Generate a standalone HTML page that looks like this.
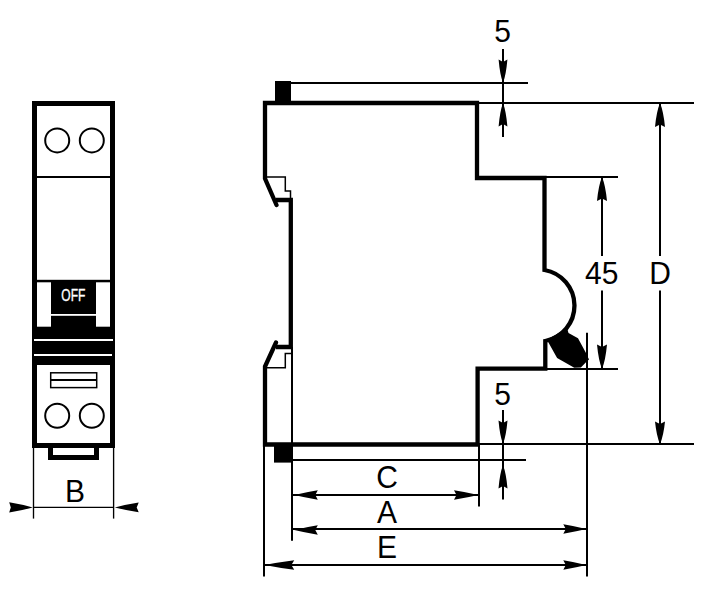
<!DOCTYPE html>
<html><head><meta charset="utf-8"><style>
html,body{margin:0;padding:0;background:#fff;}
svg{display:block;}
text{font-family:"Liberation Sans",sans-serif;}
</style></head><body>
<svg width="714" height="614" viewBox="0 0 714 614">
<rect width="714" height="614" fill="#fff"/>
<!-- FRONT VIEW -->
<g fill="none" stroke="#000">
  <rect x="34.5" y="103.5" width="78" height="342" stroke-width="5"/>
  <line x1="37" y1="177" x2="110" y2="177" stroke-width="2"/>
  <circle cx="57.2" cy="140.4" r="12" stroke-width="2"/>
  <circle cx="91.8" cy="140.4" r="12" stroke-width="2"/>
  <circle cx="57.2" cy="415.7" r="12" stroke-width="2"/>
  <circle cx="91.8" cy="415.7" r="12" stroke-width="2"/>
  <rect x="50.7" y="372.8" width="46" height="14.8" stroke-width="1.5"/>
  <line x1="50.7" y1="380" x2="96.7" y2="380" stroke-width="1.8"/>
  <rect x="50.5" y="445.5" width="46" height="12" stroke-width="5"/>
</g>
<g fill="#000">
  <rect x="32" y="279.8" width="83" height="2.5"/>
  <rect x="51" y="281" width="45" height="46"/>
  <rect x="32" y="326.7" width="83" height="38.3"/>
</g>
<g fill="#fff">
  <rect x="51" y="314" width="45" height="1.8"/>
  <rect x="34" y="339" width="79" height="2"/>
  <rect x="34" y="354" width="78" height="2"/>
</g>
<text x="73.3" y="301" fill="#fff" stroke="#fff" stroke-width="0.35" font-size="16.5" text-anchor="middle" transform="translate(73.3 0) scale(0.73 1) translate(-73.3 0)">OFF</text>
<!-- B dimension -->
<g stroke="#000" stroke-width="1.35" fill="none">
  <line x1="33.5" y1="446" x2="33.5" y2="518.6"/>
  <line x1="113.6" y1="446" x2="113.6" y2="518.6"/>
  <line x1="33.5" y1="507.4" x2="113.6" y2="507.4"/>
</g>
<text transform="translate(75 502) scale(1 1.05)" font-size="30" text-anchor="middle" fill="#000">B</text>

<!-- SIDE VIEW -->
<g fill="#000">
  <rect x="275" y="81" width="16" height="22"/>
  <rect x="274" y="443" width="18.6" height="19.6"/>
</g>
<g fill="none" stroke="#000" stroke-width="4.3">
<path d="M276.5 205 L265 178.5 L265 103 L477 103 L477 178 L544.5 178 L544.5 270 A36.1 36.1 0 0 1 545.3 341 L545.3 368.7 L477.6 368.7 L477.6 444.5 L265 444.5 L265 366.5 L276 342.5" stroke-linecap="round"/>
<path d="M276 347 L290.8 347 L290.8 200 L276 200"/>
</g>
<path d="M549 343.5 L557.1 358 L574.3 367.8 L580.9 367.6 L585.7 362.5 L589 359.5 L586 353 L578 338.3 L568.5 333 L567 328 L556 334.5 L547 339.5 Z" fill="#000"/>
<g stroke="#000" stroke-width="1.5" fill="none">
  <!-- rail notches thin -->
  <polyline points="266.8,177 285.3,177 285.3,191 290.5,191 290.5,200"/>
  <polyline points="266.8,367.7 285.3,367.7 285.3,353.5 291.6,353.5"/>
</g>
<g stroke="#000" stroke-width="2" fill="none">
  <line x1="291" y1="83" x2="528" y2="83"/>
  <line x1="477" y1="103" x2="694" y2="103"/>
  <line x1="545" y1="177" x2="618" y2="177"/>
  <line x1="545" y1="369" x2="618" y2="369"/>
  <line x1="477" y1="444" x2="694" y2="444"/>
  <line x1="292" y1="460" x2="526" y2="460"/>
  <line x1="503" y1="49" x2="503" y2="137"/>
  <line x1="503" y1="410" x2="503" y2="499.5"/>
  <line x1="602" y1="177" x2="602" y2="256"/>
  <line x1="602" y1="290.4" x2="602" y2="369"/>
  <line x1="660" y1="103" x2="660" y2="256"/>
  <line x1="660" y1="290.4" x2="660" y2="444"/>
  <line x1="264" y1="446" x2="264" y2="576.6"/>
  <line x1="292" y1="347" x2="292" y2="540.8"/>
  <line x1="479" y1="444" x2="479" y2="506.5"/>
  <line x1="587" y1="332.7" x2="587" y2="576.5"/>
  <line x1="292" y1="495" x2="479" y2="495"/>
  <line x1="292" y1="529" x2="587" y2="529"/>
  <line x1="264" y1="565" x2="587" y2="565"/>
</g>
<g fill="#000">
<path d="M503.00 83.00 Q499.92 74.78 498.60 59.50 L503.00 62.00 L507.40 59.50 Q506.08 74.78 503.00 83.00Z"/>
<path d="M503.00 103.00 Q499.92 111.22 498.60 126.50 L503.00 124.00 L507.40 126.50 Q506.08 111.22 503.00 103.00Z"/>
<path d="M503.00 444.00 Q499.85 435.77 498.50 420.50 L503.00 423.00 L507.50 420.50 Q506.15 435.77 503.00 444.00Z"/>
<path d="M503.00 465.00 Q499.85 473.23 498.50 488.50 L503.00 486.00 L507.50 488.50 Q506.15 473.23 503.00 465.00Z"/>
<path d="M602.00 177.00 Q598.50 185.40 597.00 201.00 L602.00 198.50 L607.00 201.00 Q605.50 185.40 602.00 177.00Z"/>
<path d="M602.00 369.00 Q598.50 360.43 597.00 344.50 L602.00 347.00 L607.00 344.50 Q605.50 360.43 602.00 369.00Z"/>
<path d="M660.00 103.00 Q656.50 111.40 655.00 127.00 L660.00 124.50 L665.00 127.00 Q663.50 111.40 660.00 103.00Z"/>
<path d="M660.00 444.00 Q656.50 436.12 655.00 421.50 L660.00 424.00 L665.00 421.50 Q663.50 436.12 660.00 444.00Z"/>
<path d="M294.30 495.00 Q304.88 492.42 317.80 490.30 L315.30 495.00 L317.80 499.70 Q304.88 497.58 294.30 495.00Z"/>
<path d="M478.50 495.00 Q467.48 492.42 454.00 490.30 L456.50 495.00 L454.00 499.70 Q467.48 497.58 478.50 495.00Z"/>
<path d="M294.30 530.00 Q304.88 527.41 317.80 525.30 L315.30 530.00 L317.80 534.70 Q304.88 532.59 294.30 530.00Z"/>
<path d="M586.30 529.00 Q575.95 526.41 563.30 524.30 L565.80 529.00 L563.30 533.70 Q575.95 531.59 586.30 529.00Z"/>
<path d="M264.50 565.00 Q277.87 562.36 294.20 560.20 L291.40 565.00 L294.20 569.80 Q277.87 567.64 264.50 565.00Z"/>
<path d="M586.30 565.00 Q575.95 562.41 563.30 560.30 L565.80 565.00 L563.30 569.70 Q575.95 567.59 586.30 565.00Z"/>
<path d="M32.80 507.40 Q22.18 504.38 9.20 502.20 L10.80 507.40 L9.20 512.60 Q22.18 510.42 32.80 507.40Z"/>
<path d="M114.80 507.40 Q125.55 504.56 138.70 502.50 L136.70 507.40 L138.70 512.30 Q125.55 510.24 114.80 507.40Z"/>
</g>
<g fill="#000" font-size="30" text-anchor="middle">
  <text transform="translate(502.5 41.8) scale(1 1.06)">5</text>
  <text transform="translate(502.5 404.9) scale(1 1.06)">5</text>
  <text transform="translate(601.8 284) scale(1 1.06)">45</text>
  <text transform="translate(660 283.7) scale(1 1.06)">D</text>
  <text transform="translate(387 488.3) scale(1 1.06)">C</text>
  <text transform="translate(387 522.5) scale(1 1.06)">A</text>
  <text transform="translate(387 558.3) scale(1 1.06)">E</text>
</g>
</svg>
</body></html>
